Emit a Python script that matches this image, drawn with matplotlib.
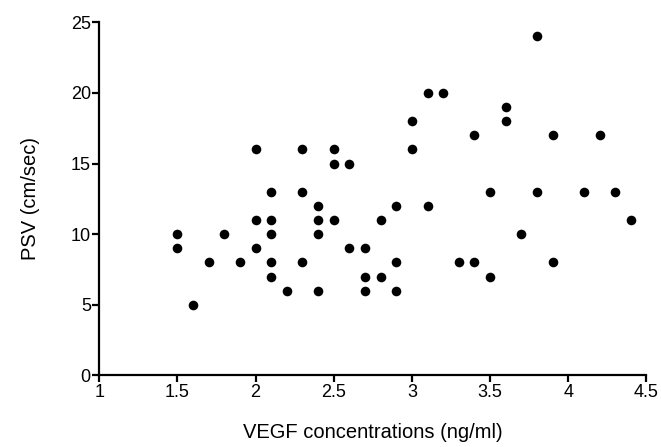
import matplotlib
matplotlib.use("Agg")
import matplotlib.pyplot as plt

# VEGF concentration (ng/ml) vs PSV (cm/sec)
vegf = [1.5, 1.5, 1.6, 1.7, 1.8, 1.9,
        2.0, 2.0, 2.0,
        2.1, 2.1, 2.1, 2.1, 2.1,
        2.2,
        2.3, 2.3, 2.3,
        2.4, 2.4, 2.4, 2.4,
        2.5, 2.5, 2.5,
        2.6, 2.6,
        2.7, 2.7, 2.7,
        2.8, 2.8,
        2.9, 2.9, 2.9,
        3.0, 3.0,
        3.1, 3.1,
        3.2, 3.3,
        3.4, 3.4,
        3.5, 3.5,
        3.6, 3.6,
        3.7,
        3.8, 3.8,
        3.9, 3.9,
        4.1, 4.2, 4.3, 4.4]
psv = [10, 9, 5, 8, 10, 8,
       16, 11, 9,
       13, 11, 10, 8, 7,
       6,
       16, 13, 8,
       12, 11, 10, 6,
       16, 15, 11,
       15, 9,
       9, 7, 6,
       11, 7,
       12, 8, 6,
       18, 16,
       20, 12,
       20, 8,
       17, 8,
       13, 7,
       19, 18,
       10,
       24, 13,
       17, 8,
       13, 17, 13, 11]

x_ticks = [1, 1.5, 2, 2.5, 3, 3.5, 4, 4.5]
x_labels = ['1', '1.5', '2', '2.5', '3', '3.5', '4', '4.5']
y_ticks = [0, 5, 10, 15, 20, 25]


def main():
    plt.rcParams['font.family'] = ['Liberation Sans', 'DejaVu Sans']
    fig = plt.figure(figsize=(6.61, 4.47), dpi=100)
    ax = fig.add_axes([0.15, 0.16, 0.828, 0.79])

    ax.scatter(vegf, psv, s=48, color='black', linewidths=0, zorder=3, clip_on=False)

    ax.set_xlim(1, 4.5)
    ax.set_ylim(0, 25)
    ax.set_xticks(x_ticks)
    ax.set_xticklabels(x_labels)
    ax.set_yticks(y_ticks)

    for side in ['top', 'right']:
        ax.spines[side].set_visible(False)
    for side in ['left', 'bottom']:
        ax.spines[side].set_linewidth(1.6)
        ax.spines[side].set_color('black')

    ax.tick_params(axis='both', direction='out', length=5, width=1.6,
                   labelsize=13, colors='black', pad=1)

    ax.set_xlabel('VEGF concentrations (ng/ml)', fontsize=14.5, labelpad=16)
    ax.set_ylabel('PSV (cm/sec)', fontsize=14.5, labelpad=22)

    fig.savefig('out.png', dpi=100)


if __name__ == "__main__":
    main()
